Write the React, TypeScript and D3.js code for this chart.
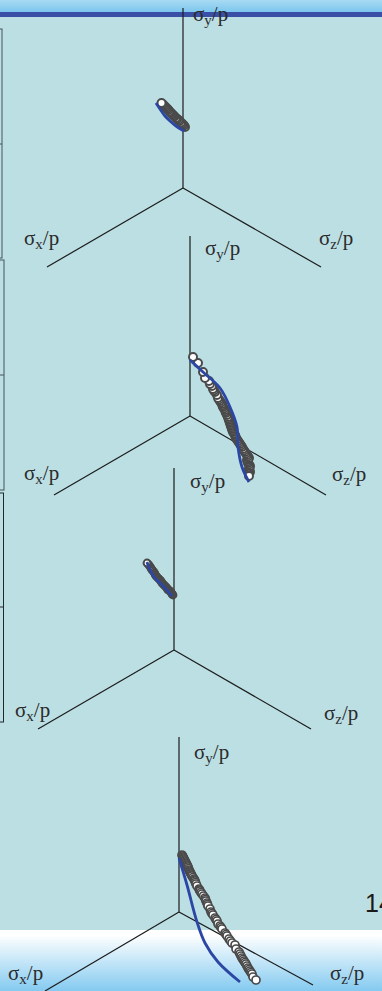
import * as d3 from "d3";

const WIDTH = 382;
const HEIGHT = 991;

type Pair = [number, number];

// stress paths as [horizontal, vertical] from each origin
const markers1: Pair[] = [
  [0.02, 0.61], [0.01, 0.625], [0, 0.635], [-0.01, 0.645], [-0.02, 0.655], [-0.035, 0.67],
  [-0.045, 0.68], [-0.06, 0.69], [-0.07, 0.7], [-0.085, 0.715], [-0.095, 0.725], [-0.105, 0.735],
  [-0.115, 0.745], [-0.125, 0.755], [-0.135, 0.765], [-0.145, 0.78], [-0.155, 0.79], [-0.165, 0.8],
  [-0.175, 0.81], [-0.185, 0.82], [-0.195, 0.83], [-0.205, 0.84], [-0.215, 0.85],
];
const curve1: Pair[] = [[-0.27, 0.85], [-0.23, 0.79], [-0.18, 0.72], [-0.13, 0.67], [-0.07, 0.62], [0.01, 0.57]];

const markers2: Pair[] = [
  [0.6, -0.56], [0.595, -0.545], [0.59, -0.53], [0.595, -0.515], [0.6, -0.5], [0.59, -0.485], [0.58, -0.47],
  [0.575, -0.455], [0.57, -0.44], [0.58, -0.43], [0.59, -0.42], [0.58, -0.405], [0.57, -0.39], [0.56, -0.375],
  [0.55, -0.36], [0.54, -0.345], [0.53, -0.33], [0.52, -0.31], [0.51, -0.295], [0.5, -0.28], [0.49, -0.265],
  [0.48, -0.25], [0.47, -0.235], [0.46, -0.22], [0.455, -0.205], [0.45, -0.19], [0.44, -0.175], [0.43, -0.16],
  [0.425, -0.145], [0.42, -0.13], [0.415, -0.115], [0.41, -0.1], [0.405, -0.085], [0.4, -0.07], [0.395, -0.055],
  [0.39, -0.04], [0.385, -0.025], [0.38, -0.01], [0.37, 0.01], [0.36, 0.03], [0.355, 0.045], [0.35, 0.06],
  [0.34, 0.075], [0.33, 0.09], [0.325, 0.105], [0.32, 0.12], [0.31, 0.135], [0.3, 0.15], [0.29, 0.165],
  [0.28, 0.18], [0.27, 0.21], [0.25, 0.24], [0.24, 0.255], [0.23, 0.27], [0.22, 0.3], [0.2, 0.32], [0.19, 0.35],
  [0.15, 0.38], [0.13, 0.44], [0.08, 0.53], [0.03, 0.59], [0.59, -0.6],
];
const curve2: Pair[] = [[0, 0.56], [0.13, 0.44], [0.3, 0.28], [0.4, 0.09], [0.47, -0.11], [0.48, -0.31], [0.52, -0.51], [0.59, -0.66]];

const markers3: Pair[] = [
  [-0.01, 0.55], [-0.015, 0.555], [-0.02, 0.56], [-0.025, 0.57], [-0.03, 0.58], [-0.04, 0.59], [-0.05, 0.595],
  [-0.06, 0.6], [-0.065, 0.61], [-0.07, 0.62], [-0.08, 0.63], [-0.09, 0.64], [-0.1, 0.65], [-0.11, 0.66],
  [-0.12, 0.67], [-0.125, 0.68], [-0.13, 0.69], [-0.14, 0.7], [-0.15, 0.71], [-0.16, 0.72], [-0.17, 0.73],
  [-0.18, 0.74], [-0.185, 0.75], [-0.19, 0.76], [-0.195, 0.77], [-0.2, 0.78], [-0.21, 0.79], [-0.22, 0.8],
  [-0.225, 0.81], [-0.23, 0.82], [-0.24, 0.835], [-0.25, 0.85], [-0.26, 0.86], [-0.27, 0.87],
];
const curve3: Pair[] = [[-0.27, 0.88], [-0.24, 0.8], [-0.19, 0.72], [-0.14, 0.67], [-0.09, 0.62], [-0.02, 0.54]];

const markers4: Pair[] = [
  [0.03, 0.57], [0.035, 0.56], [0.04, 0.55], [0.045, 0.54], [0.05, 0.53], [0.055, 0.52], [0.06, 0.51], [0.065, 0.5],
  [0.07, 0.49], [0.075, 0.48], [0.08, 0.47], [0.085, 0.46], [0.09, 0.45], [0.095, 0.435], [0.1, 0.42], [0.105, 0.41],
  [0.11, 0.4], [0.115, 0.39], [0.12, 0.38], [0.125, 0.37], [0.13, 0.36], [0.14, 0.345], [0.15, 0.33], [0.155, 0.32],
  [0.16, 0.31], [0.165, 0.295], [0.17, 0.28], [0.18, 0.26], [0.2, 0.23], [0.205, 0.22], [0.21, 0.21], [0.22, 0.195],
  [0.23, 0.18], [0.245, 0.16], [0.26, 0.14], [0.265, 0.125], [0.27, 0.11], [0.28, 0.09], [0.285, 0.075], [0.29, 0.06],
  [0.31, 0.03], [0.32, 0], [0.33, -0.015], [0.34, -0.03], [0.36, -0.06], [0.37, -0.075], [0.38, -0.09], [0.39, -0.12],
  [0.41, -0.14], [0.42, -0.155], [0.43, -0.17], [0.46, -0.21], [0.47, -0.225], [0.48, -0.24], [0.5, -0.27],
  [0.515, -0.29], [0.53, -0.31], [0.56, -0.33], [0.57, -0.37], [0.6, -0.4], [0.61, -0.42], [0.62, -0.44], [0.63, -0.46],
  [0.64, -0.475], [0.65, -0.49], [0.66, -0.505], [0.67, -0.52], [0.68, -0.54], [0.69, -0.56], [0.7, -0.575],
  [0.71, -0.59], [0.72, -0.605], [0.73, -0.62], [0.74, -0.65], [0.77, -0.68],
];
const curve4: Pair[] = [[0, 0.54], [0.08, 0.27], [0.18, -0.1], [0.26, -0.31], [0.39, -0.5], [0.61, -0.7]];

const axisEnds1: Pair[] = [[0, 1.8], [-1.36, -0.79], [1.38, -0.79]];
const axisEnds2: Pair[] = [[0, 1.8], [-1.36, -0.79], [1.36, -0.79]];
const axisEnds3: Pair[] = [[0, 1.82], [-1.36, -0.79], [1.37, -0.79]];
const axisEnds4: Pair[] = [[0, 1.75], [-1.34, -0.79], [1.34, -0.73]];

// layout: origin of each plot, marker size, then where its three labels sit
const panels = [
  { ox: 183, oy: 188, r: 4, sw: 2, markers: markers1, curve: curve1, ends: axisEnds1, y: [193, 21], x: [24, 245], z: [319, 245] },
  { ox: 190, oy: 416, r: 4, sw: 2, markers: markers2, curve: curve2, ends: axisEnds2, y: [205, 255], x: [24, 480], z: [332, 481] },
  { ox: 174, oy: 650, r: 3.4, sw: 2, markers: markers3, curve: curve3, ends: axisEnds3, y: [190, 488], x: [15, 717], z: [324, 720] },
  { ox: 179, oy: 912, r: 4, sw: 1.7, markers: markers4, curve: curve4, ends: axisEnds4, y: [194, 759], x: [8, 980], z: [330, 980] },
];

// leftovers of the neighbouring panels at the left edge
const sideBoxes = [
  { x: -2, right: 2, top: 29, bottom: 258, tick: 144, color: "#47545a" },
  { x: -2, right: 4, top: 260, bottom: 490, tick: 375, color: "#47545a" },
  { x: -2, right: 3.5, top: 493, bottom: 722, tick: 607, color: "#20292d" },
];

const Label = ({ pos, sub }: { pos: number[]; sub: string }) => (
  <text x={pos[0]} y={pos[1]} fontFamily="'Liberation Serif', serif" fontSize={21} fill="#2b2b2b">
    σ
    <tspan fontSize={15} dy={4}>{sub}</tspan>
    <tspan dy={-4}>/p</tspan>
  </text>
);

const Panel = ({ panel }: { panel: (typeof panels)[number] }) => {
  const sx = d3.scaleLinear().domain([0, 1]).range([panel.ox, panel.ox + 100]);
  const sy = d3.scaleLinear().domain([0, 1]).range([panel.oy, panel.oy - 100]);
  const line = d3
    .line<Pair>()
    .x((d) => sx(d[0]))
    .y((d) => sy(d[1]))
    .curve(d3.curveCatmullRom);

  return (
    <g>
      {panel.ends.map((d, i) => (
        <line key={i} x1={sx(0)} y1={sy(0)} x2={sx(d[0])} y2={sy(d[1])} stroke="#1c1c1c" strokeWidth={1.2} />
      ))}
      {panel.markers.map((d, i) => (
        <circle key={i} cx={sx(d[0])} cy={sy(d[1])} r={panel.r} fill="#fff" stroke="#4a4a4a" strokeWidth={panel.sw} />
      ))}
      <path d={line(panel.curve) ?? ""} fill="none" stroke="#2c46a3" strokeWidth={2.8} />
      <Label pos={panel.y} sub="y" />
      <Label pos={panel.x} sub="x" />
      <Label pos={panel.z} sub="z" />
    </g>
  );
};

export default function App() {
  return (
    <svg width={WIDTH} height={HEIGHT} style={{ position: "absolute", left: 0, top: 0 }}>
      <defs>
        <linearGradient id="topBand" x1="0" y1="0" x2="0" y2="1">
          <stop offset="0" stopColor="#a8daf3" />
          <stop offset="1" stopColor="#7cc6ee" />
        </linearGradient>
        <linearGradient id="bottomBand" x1="0" y1="0" x2="0" y2="1">
          <stop offset="0.08" stopColor="#ffffff" />
          <stop offset="1" stopColor="#84caf0" />
        </linearGradient>
      </defs>
      <rect width={WIDTH} height={HEIGHT} fill="#bbdfe3" />
      <rect width={WIDTH} height={12} fill="url(#topBand)" />
      <rect y={12} width={WIDTH} height={5} fill="#3a4fa6" />
      <rect y={930} width={WIDTH} height={61} fill="url(#bottomBand)" />
      {sideBoxes.map((b, i) => (
        <g key={i} fill="none" stroke={b.color} strokeWidth={1}>
          <rect x={b.x} y={b.top} width={b.right - b.x} height={b.bottom - b.top} />
          <line x1={b.x} x2={b.right} y1={b.tick} y2={b.tick} />
        </g>
      ))}
      {panels.map((p, i) => (
        <Panel key={i} panel={p} />
      ))}
      <text x={365} y={912} fontFamily="'Liberation Sans', sans-serif" fontSize={25} fill="#1a1a1a">
        14
      </text>
    </svg>
  );
}
